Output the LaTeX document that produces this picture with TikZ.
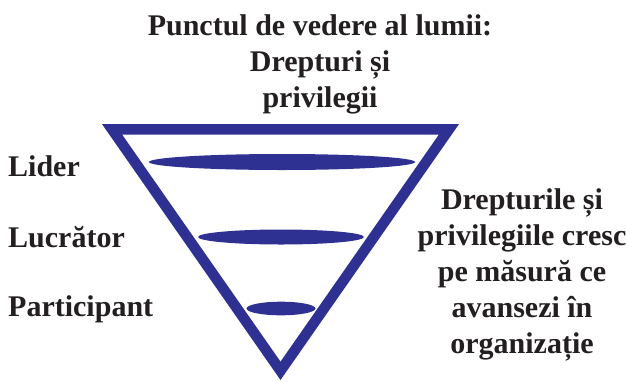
\documentclass[tikz,border=0pt]{standalone}
\usepackage{fontspec}
\setmainfont{Liberation Serif}
\definecolor{tblue}{HTML}{2E3192}
\definecolor{ink}{HTML}{231F20}
\tikzset{
  lbl/.style={font=\bfseries\fontsize{30}{36}\selectfont, text=ink, inner sep=0pt},
  bar/.style={fill=tblue}
}
\begin{document}
\begin{tikzpicture}[x=1pt,y=-1pt]
\useasboundingbox (0,0) rectangle (626,381);
% inverted triangle
\draw[tblue, line width=10.5pt, line join=miter] (112,129.25) -- (449,129.25) -- (280.5,370.8) -- cycle;
% bars
\fill[bar] (282,162) ellipse [x radius=133pt, y radius=8pt];
\fill[bar] (281,237) ellipse [x radius=83pt, y radius=7.5pt];
\fill[bar] (281,308.5) ellipse [x radius=34.5pt, y radius=6.8pt];
% title (anchor base = baseline of last line)
\node[lbl, align=center, anchor=base] (title) at (320,107) {Punctul de vedere al lumii:\\Drepturi și\\privilegii};
% left labels
\node[lbl, anchor=base west] (lider) at (8,176) {Lider};
\node[lbl, anchor=base west] (lucr) at (8,247) {Lucrător};
\node[lbl, anchor=base west] (part) at (8,316) {Participant};
% right text
\node[lbl, align=center, anchor=base] (note) at (522,353) {Drepturile și\\privilegiile cresc\\pe măsură ce\\avansezi în\\organizație};
\end{tikzpicture}
\end{document}
